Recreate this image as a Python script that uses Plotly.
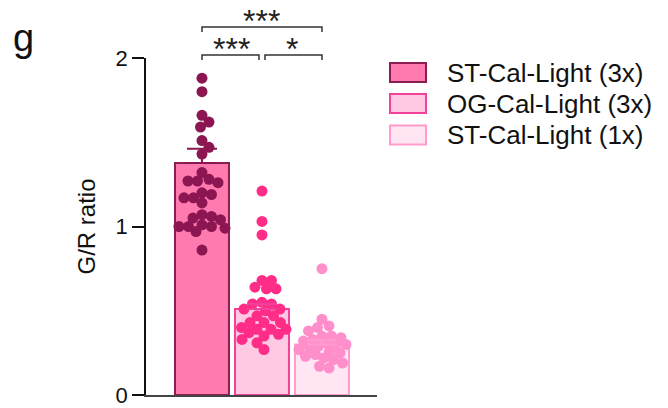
import plotly.graph_objects as go
import numpy as np

# ---------------- data ----------------
groups = ["ST-Cal-Light (3x)", "OG-Cal-Light (3x)", "ST-Cal-Light (1x)"]
means = [1.377, 0.51, 0.30]
sems = [0.085, 0.03, 0.025]
st3_values = [1.88, 1.80, 1.66, 1.62, 1.59, 1.51, 1.47, 1.43, 1.32, 1.28, 1.27, 1.27,
              1.26, 1.20, 1.19, 1.17, 1.17, 1.14, 1.07, 1.06, 1.05, 1.04, 1.01, 1.00,
              1.00, 1.00, 0.99, 0.97, 0.86]
og3_values = [1.21, 1.03, 0.95, 0.68, 0.68, 0.64, 0.63, 0.63, 0.55, 0.54, 0.54, 0.51,
              0.51, 0.50, 0.47, 0.47, 0.43, 0.43, 0.43, 0.40, 0.39, 0.39, 0.39, 0.37,
              0.36, 0.35, 0.33, 0.31, 0.27]
st1_values = [0.75, 0.45, 0.41, 0.40, 0.38, 0.35, 0.35, 0.34, 0.33, 0.32, 0.31, 0.30,
              0.30, 0.29, 0.28, 0.27, 0.26, 0.25, 0.24, 0.23, 0.22, 0.21, 0.19, 0.17, 0.16]
y_ticks = [0, 1, 2]
y_title = "G/R ratio"
panel_label = "g"
comparisons = [(0, 1, "***"), (1, 2, "*"), (0, 2, "***")]

# ---------------- styles ----------------
fill_colors = ["#FF7AAF", "#FFC8E3", "#FFE6F2"]
edge_colors = ["#8A1E50", "#F2419A", "#FF9CCD"]
dot_colors = ["#8B1651", "#FF2C88", "#FF8FCB"]
FONT = "Liberation Sans, Arial, sans-serif"

W, H = 668, 408
L, R, T, B = 146, 291, 58, 13
PW, PH = W - L - R, H - T - B
XR = [-0.933, 2.917]
YR = [0, 2]
px_per_x = PW / (XR[1] - XR[0])
px_per_y = PH / (YR[1] - YR[0])


def px2paper_x(px):
    return (px - L) / PW


def py2paper_y(py):
    return (H - B - py) / PH


def swarm(values, dia=9.5, maxw=24.0):
    """simple deterministic beeswarm: returns x offsets in data units"""
    order = np.argsort(values)[::-1]
    placed = []
    offs = np.zeros(len(values))
    cands = [0.0]
    for k in range(1, int(maxw * 2) + 1):
        cands += [k * 0.5, -k * 0.5]
    for i in order:
        yp = values[i] * px_per_y
        best, best_d = 0.0, -1
        for c in cands:
            dmin = min([np.hypot(c - px_, yp - py_) for px_, py_ in placed] or [1e9])
            if dmin >= dia:
                best = c
                best_d = dmin
                break
            if dmin > best_d:
                best_d, best = dmin, c
        placed.append((best, yp))
        offs[i] = best / px_per_x
    return offs


fig = go.Figure()
xs = [0, 1, 2]
fig.add_trace(go.Bar(
    x=xs, y=means, width=0.9,
    marker=dict(color=fill_colors, line=dict(color=edge_colors, width=2)),
    showlegend=False, hoverinfo="skip",
))

for i, vals in enumerate([st3_values, og3_values, st1_values]):
    vals = np.array(vals)
    offs = swarm(vals)
    fig.add_trace(go.Scatter(
        x=xs[i] + offs, y=vals, mode="markers",
        marker=dict(size=11, color=dot_colors[i], line=dict(width=0)),
        showlegend=False, hoverinfo="skip",
    ))

for i in range(3):
    fig.add_trace(go.Scatter(
        x=[xs[i]], y=[means[i]], mode="markers",
        marker=dict(size=1, opacity=0),
        error_y=dict(type="data", symmetric=False, array=[sems[i]], arrayminus=[0],
                     color=edge_colors[i] if i else dot_colors[0], thickness=2, width=15),
        showlegend=False, hoverinfo="skip",
    ))

shapes = []
annotations = []
# significance brackets
br_levels = {(0, 1): 55, (1, 2): 55, (0, 2): 27}
for a, b, star in comparisons:
    yb = br_levels[(a, b)]
    xa, xb = xs[a], xs[b]
    if b - a == 1:
        xa = xa + (0.0 if a == 0 else 0.05)
        xb = xb - (0.05 if a == 0 else 0.0)
    y0 = py2paper_y(yb + 5)
    y1 = py2paper_y(yb)
    shapes.append(dict(type="path", xref="x", yref="paper",
                       path=f"M {xa},{y0} L {xa},{y1} L {xb},{y1} L {xb},{y0}",
                       line=dict(color="#333333", width=1.5)))
    annotations.append(dict(x=(xs[a] + xs[b]) / 2, y=py2paper_y(yb - 6), xref="x", yref="paper",
                            text=star, showarrow=False, xanchor="center", yanchor="middle",
                            font=dict(size=32, color="#222222", family=FONT)))

# legend drawn as boxes + text
row_centers = [72.5, 103.5, 135]
for i, g in enumerate(groups):
    yc = row_centers[i]
    shapes.append(dict(type="rect", xref="paper", yref="paper",
                       x0=px2paper_x(390), x1=px2paper_x(426),
                       y0=py2paper_y(yc + 9.5), y1=py2paper_y(yc - 9.5),
                       fillcolor=fill_colors[i], line=dict(color=edge_colors[i], width=2)))
    annotations.append(dict(x=px2paper_x(445), y=py2paper_y(yc), xref="paper", yref="paper",
                            text=g, showarrow=False, xanchor="left", yanchor="middle",
                            font=dict(size=26, color="#111111", family=FONT)))

annotations.append(dict(x=px2paper_x(11), y=py2paper_y(38), xref="paper", yref="paper",
                        text=panel_label, showarrow=False, xanchor="left", yanchor="middle",
                        font=dict(size=38, color="#111111", family=FONT)))

fig.update_layout(
    width=W, height=H,
    margin=dict(l=L, r=R, t=T, b=B, autoexpand=False),
    paper_bgcolor="white", plot_bgcolor="white",
    font=dict(family=FONT, color="#111111"),
    shapes=shapes, annotations=annotations,
    showlegend=False,
    xaxis=dict(range=XR, showgrid=False, zeroline=False, showticklabels=False,
               ticks="", showline=True, linecolor="#444444", linewidth=2, automargin=False),
    yaxis=dict(range=YR, tickvals=y_ticks, ticktext=[str(t) for t in y_ticks],
               showgrid=False, zeroline=False, showline=True, linecolor="#111111",
               linewidth=1.5, ticks="outside", ticklen=12, tickwidth=1.5, tickcolor="#111111",
               ticklabeloverflow="allow", automargin=False,
               tickfont=dict(size=22, color="#111111", family=FONT),
               title=dict(text=y_title, font=dict(size=24, color="#111111", family=FONT),
                          standoff=13)),
)

fig.write_html("out.html", config={"displayModeBar": False},
               post_script="document.body.style.margin='0px';")
